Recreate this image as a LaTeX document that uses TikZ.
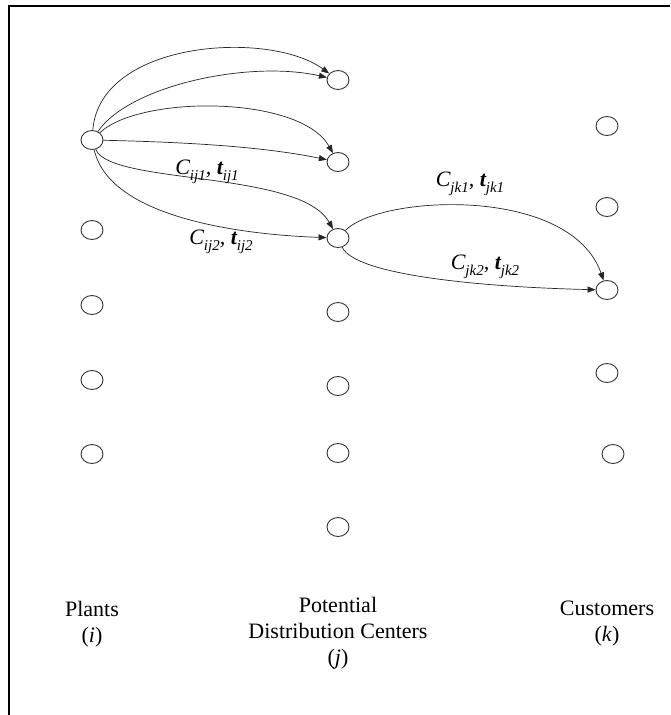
\documentclass[tikz,border=0pt]{standalone}
\usepackage{fontspec}
\setmainfont{Liberation Serif}
\usetikzlibrary{arrows.meta,shapes.geometric}
\tikzset{
  site/.style={draw=black!80, line width=0.9pt, ellipse, minimum width=22pt, minimum height=19pt, inner sep=0pt},
  flow/.style={draw=black!85, line width=0.7pt, -{Triangle[length=8pt,width=6pt]}},
  lbl/.style={font=\fontsize{22}{24}\selectfont\itshape, inner sep=0pt},
  caption/.style={font=\fontsize{22}{26}\selectfont, align=center, inner sep=0pt}
}
\newcommand{\mysub}[1]{\raisebox{-6pt}{\fontsize{15}{15}\selectfont\mdseries #1}}
\newcommand{\ct}[2]{C\mysub{#1}, \textbf{t}\mysub{#2}}
\begin{document}
\begin{tikzpicture}[x=1pt,y=-1pt]
\useasboundingbox (0,0) rectangle (670,715);
\fill[white] (0,0) rectangle (670,715);
\draw[line width=2.2pt] (9,715) -- (9,6) -- (670,6);
% plants
\node[site] (p1) at (92,140) {};
\node[site] (p2) at (92,230) {};
\node[site] (p3) at (92,305) {};
\node[site] (p4) at (92,380) {};
\node[site] (p5) at (92,454) {};
% DCs
\node[site] (d1) at (338,80) {};
\node[site] (d2) at (338,162) {};
\node[site] (d3) at (338,238) {};
\node[site] (d4) at (338,312) {};
\node[site] (d5) at (338,386) {};
\node[site] (d6) at (338,453) {};
\node[site] (d7) at (338,527) {};
% customers
\node[site] (c1) at (607,126) {};
\node[site] (c2) at (607,207) {};
\node[site] (c3) at (607,290) {};
\node[site] (c4) at (607,373) {};
\node[site] (c5) at (613,454) {};
% plant -> DC flows
\draw[flow] (p1) .. controls (100,40) and (270,30) .. (d1);
\draw[flow] (p1) .. controls (130,85) and (250,60) .. (d1);
\draw[flow] (p1) .. controls (140,95) and (300,95) .. (d2);
\draw[flow] (p1) .. controls (180,142) and (260,146) .. (d2);
\draw[flow] (p1) .. controls (110,185) and (300,170) .. (d3);
\draw[flow] (p1) .. controls (110,220) and (250,235) .. (d3);
% DC -> customer flows
\draw[flow] (d3) .. controls (380,195) and (570,185) .. (c3);
\draw[flow] (d3) .. controls (355,275) and (480,287) .. (c3);
% labels
\node[lbl] (l1) at (207,172) {\ct{ij1}{ij1}};
\node[lbl] (l2) at (221,242) {\ct{ij2}{ij2}};
\node[lbl] (l3) at (470,184) {\ct{jk1}{jk1}};
\node[lbl] (l4) at (485,267) {\ct{jk2}{jk2}};
% captions
\node[caption] (cp) at (92,624) {Plants\\(\textit{i})};
\node[caption] (cd) at (338,633) {Potential\\Distribution Centers\\(\textit{j})};
\node[caption] (cc) at (607,624) {Customers\\(\textit{k})};
\end{tikzpicture}
\end{document}
